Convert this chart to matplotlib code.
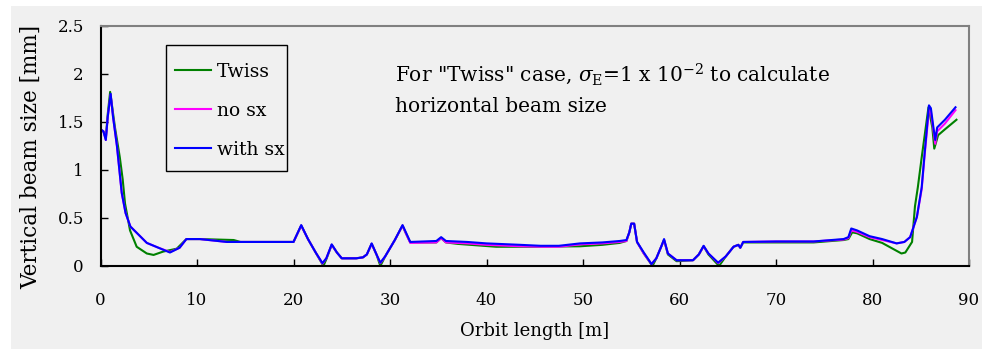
import numpy as np
import matplotlib
matplotlib.use('Agg')
import matplotlib.pyplot as plt
from matplotlib.patches import Rectangle

plt.rcParams['font.family'] = 'serif'
plt.rcParams['font.serif'] = ['DejaVu Serif']
plt.rcParams['mathtext.fontset'] = 'dejavuserif'

# orbit positions [m] shared by the "no sx" and "with sx" curves
orbit = [0, 0.3, 0.55, 0.75, 1.05, 1.3, 1.7, 2.2, 2.6, 3.1,
         4.0, 4.8, 6.0, 7.2, 8.2, 8.9, 10.3, 13.1, 20.0, 20.8,
         21.5, 22.3, 23.0, 23.4, 23.96, 24.5, 25.0, 26.5, 27.2, 27.6,
         28.1, 28.6, 29.0, 29.5, 30.5, 31.3, 31.6, 32.1, 34.8, 35.3,
         35.8, 38, 40, 43.5, 45.6, 47.5, 49.7, 52, 53.8, 54.5,
         54.8, 55.0, 55.3, 55.6, 56.3, 57.1, 57.6, 58.1, 58.4, 58.8,
         59.7, 61.4, 62.0, 62.5, 63.0, 64.0, 64.8, 65.6, 66.1, 66.3,
         66.6, 70, 73.9, 77, 77.5, 77.8, 78.4, 79.7, 81, 82.5,
         83.3, 83.9, 84.6, 85.1, 85.4, 85.85, 86.05, 86.3, 86.5, 86.7,
         87.5, 88.6]

with_sx = [1.42, 1.40, 1.31, 1.55, 1.79, 1.55, 1.25, 0.76, 0.55, 0.41,
           0.32, 0.24, 0.19, 0.14, 0.19, 0.28, 0.28, 0.25, 0.25, 0.425,
           0.28, 0.14, 0.03, 0.08, 0.225, 0.14, 0.08, 0.08, 0.09, 0.12,
           0.235, 0.12, 0.035, 0.10, 0.27, 0.425, 0.36, 0.25, 0.26, 0.30,
           0.26, 0.25, 0.235, 0.22, 0.21, 0.21, 0.235, 0.245, 0.26, 0.27,
           0.35, 0.44, 0.44, 0.25, 0.14, 0.02, 0.08, 0.20, 0.28, 0.13,
           0.06, 0.06, 0.12, 0.21, 0.13, 0.035, 0.10, 0.20, 0.22, 0.19,
           0.25, 0.255, 0.255, 0.28, 0.30, 0.39, 0.37, 0.31, 0.28, 0.235,
           0.25, 0.30, 0.51, 0.82, 1.17, 1.67, 1.64, 1.45, 1.31, 1.44,
           1.52, 1.65]

no_sx = [1.42, 1.40, 1.31, 1.55, 1.78, 1.55, 1.25, 0.76, 0.55, 0.41,
         0.32, 0.24, 0.19, 0.145, 0.19, 0.28, 0.28, 0.25, 0.25, 0.42,
         0.28, 0.14, 0.025, 0.08, 0.22, 0.14, 0.08, 0.08, 0.09, 0.12,
         0.23, 0.12, 0.03, 0.10, 0.27, 0.42, 0.35, 0.24, 0.245, 0.29,
         0.245, 0.235, 0.22, 0.205, 0.2, 0.2, 0.225, 0.235, 0.25, 0.26,
         0.35, 0.44, 0.44, 0.25, 0.13, 0.02, 0.08, 0.20, 0.27, 0.13,
         0.06, 0.06, 0.12, 0.205, 0.13, 0.03, 0.10, 0.20, 0.22, 0.19,
         0.25, 0.255, 0.255, 0.275, 0.29, 0.37, 0.355, 0.30, 0.27, 0.235,
         0.25, 0.30, 0.51, 0.80, 1.15, 1.62, 1.60, 1.42, 1.27, 1.40,
         1.48, 1.62]

orbit_twiss = [0, 0.3, 0.55, 0.75, 1.0, 1.5, 2.0, 2.3, 2.54, 3.06,
               3.75, 4.8, 5.5, 6.5, 7.9, 8.9, 10.3, 13.8, 14.5, 20.0,
               20.8, 21.5, 22.3, 23.1, 23.4, 23.96, 24.5, 25.0, 26.5, 27.2,
               27.6, 28.1, 28.6, 29.0, 29.5, 30.5, 31.3, 31.6, 32.1, 34.8,
               35.3, 35.8, 37, 41, 45, 49.7, 52, 53.8, 54.5, 54.8,
               55.0, 55.3, 55.6, 56.3, 57.2, 57.6, 58.1, 58.4, 58.8, 59.7,
               61.4, 62.0, 62.5, 63.0, 64.1, 64.8, 65.6, 66.1, 66.3, 66.6,
               70, 73.9, 77, 77.5, 77.9, 78.4, 79.7, 81, 83.0, 83.4,
               84.1, 84.4, 84.7, 85.1, 85.8, 86.2, 86.4, 86.8, 87.5, 88.7]

twiss = [1.42, 1.40, 1.33, 1.58, 1.81, 1.44, 1.13, 0.9, 0.65, 0.37,
         0.20, 0.13, 0.115, 0.15, 0.18, 0.28, 0.28, 0.27, 0.25, 0.25,
         0.42, 0.28, 0.14, 0.0, 0.07, 0.22, 0.14, 0.08, 0.08, 0.09,
         0.12, 0.23, 0.12, 0.0, 0.10, 0.27, 0.42, 0.35, 0.245, 0.245,
         0.29, 0.245, 0.23, 0.2, 0.2, 0.205, 0.22, 0.24, 0.26, 0.35,
         0.44, 0.44, 0.25, 0.13, 0.0, 0.08, 0.20, 0.27, 0.12, 0.05,
         0.06, 0.12, 0.205, 0.12, 0.0, 0.10, 0.20, 0.22, 0.19, 0.245,
         0.245, 0.245, 0.27, 0.28, 0.35, 0.34, 0.28, 0.24, 0.13, 0.14,
         0.25, 0.62, 0.82, 1.13, 1.65, 1.44, 1.22, 1.36, 1.42, 1.52]

bg = '#f0f0f0'

fig = plt.figure(figsize=(9.89, 3.49), dpi=100, facecolor='white')
fig.patches.append(Rectangle((11/989, 0), 971/989, 343/349, transform=fig.transFigure,
                             facecolor=bg, edgecolor='none', zorder=-10))

ax = fig.add_axes([100.5/989, 1 - 266/349, 868.5/989, 240.5/349])
ax.set_facecolor(bg)

ax.plot(orbit_twiss, twiss, color='#008000', lw=1.5, label='Twiss')
ax.plot(orbit, no_sx, color='#ff00ff', lw=1.5, label='no sx')
ax.plot(orbit, with_sx, color='#0000ff', lw=1.5, label='with sx')

ax.set_xlim(0, 90)
ax.set_ylim(0, 2.5)
ax.set_xticks(np.arange(0, 91, 10))
ax.set_yticks([0, 0.5, 1, 1.5, 2, 2.5])
ax.set_yticklabels(['0', '0.5', '1', '1.5', '2', '2.5'])
ax.tick_params(direction='in', length=5, width=1, labelsize=12)
ax.tick_params(axis='x', pad=19)
ax.tick_params(axis='y', pad=12)

for s in ['left', 'bottom']:
    ax.spines[s].set_color('black')
    ax.spines[s].set_linewidth(1.5)
for s in ['top', 'right']:
    ax.spines[s].set_color('#808080')
    ax.spines[s].set_linewidth(1.5)

ax.set_xlabel('Orbit length [m]', fontsize=13, labelpad=9)
ax.set_ylabel('Vertical beam size [mm]', fontsize=15.5)
ax.yaxis.set_label_coords(-0.067, 0.455)

# legend without its own frame, boxed by a plain black rectangle
leg = ax.legend(loc='upper left', bbox_to_anchor=(0.0858, 0.845), borderaxespad=0,
                fontsize=13.5, frameon=False, labelspacing=1.12,
                handlelength=1.9, handletextpad=0.35, borderpad=0)
ax.add_patch(Rectangle((0.0754, 0.395), 0.1393, 0.524, transform=ax.transAxes,
                       facecolor='none', edgecolor='black', lw=1.0, zorder=5))

ax.text(0.339, 0.80, 'For "Twiss" case, $\\sigma_{\\rm E}$=1 x 10$^{-2}$ to calculate',
        transform=ax.transAxes, fontsize=14.5, ha='left', va='center')
ax.text(0.339, 0.665, 'horizontal beam size',
        transform=ax.transAxes, fontsize=14.5, ha='left', va='center')

plt.savefig('out.png', dpi=100, facecolor=fig.get_facecolor())
